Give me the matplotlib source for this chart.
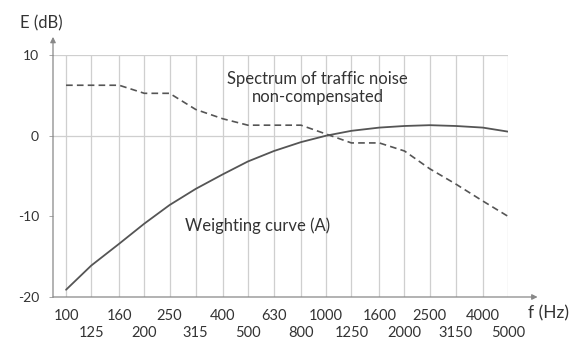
import matplotlib.pyplot as plt
import numpy as np

# third-octave band centres (Hz)
freqs = [100, 125, 160, 200, 250, 315, 400, 500, 630, 800,
         1000, 1250, 1600, 2000, 2500, 3150, 4000, 5000]
freq_labels = [str(f) for f in freqs]

# weighting curve (A), dB
weighting_a = [-19.1, -16.1, -13.4, -10.9, -8.6, -6.6, -4.8, -3.2, -1.9, -0.8,
               0.0, 0.6, 1.0, 1.2, 1.3, 1.2, 1.0, 0.5]

# traffic noise spectrum, non-compensated, dB
traffic = [6.25, 6.25, 6.25, 5.25, 5.25, 3.25, 2.1, 1.3, 1.3, 1.3,
           0.2, -0.9, -0.9, -1.9, -4.1, -6.0, -8.1, -10.0]

y_ticks = [-20, -10, 0, 10]
h_grid = [0, 10]

plt.rcParams['font.family'] = ['Lato', 'DejaVu Sans']

txt = '#333333'
grid_c = '#cfcfcf'
line_c = '#555555'

fig = plt.figure(figsize=(5.72, 3.40), dpi=100)
ax = fig.add_axes([53/572, 1 - 297/340, (508 - 53)/572, (297 - 55)/340])

ax.plot(freqs, weighting_a, color=line_c, lw=1.3, solid_capstyle='round')
ax.plot(freqs, traffic, color=line_c, lw=1.2, dashes=(4, 2.5))

ax.set_xscale('log')
ax.set_xlim(100 * 2 ** (-1/6), 5000)
ax.set_ylim(-20, 10)

# band labels on two rows: even bands as major ticks, odd bands as minor ticks
ax.set_xticks(freqs[0::2])
ax.set_xticklabels(freq_labels[0::2], fontsize=10.5, color=txt)
ax.set_xticks(freqs[1::2], minor=True)
ax.set_xticklabels(freq_labels[1::2], minor=True, fontsize=10.5, color=txt)
ax.tick_params(axis='x', which='major', length=0, pad=9)
ax.tick_params(axis='x', which='minor', length=0, pad=21)
# vertical grid at every band, horizontal only at 0 and 10
ax.grid(axis='x', which='both', color=grid_c, lw=0.9)
for h in h_grid:
    ax.axhline(h, color=grid_c, lw=0.9, zorder=0)

ax.set_yticks(y_ticks)
ax.set_yticklabels([str(v) for v in y_ticks], fontsize=10, color=txt)
ax.tick_params(axis='y', length=3, width=0.6, color='#999999', pad=7)

for s in ax.spines.values():
    s.set_visible(False)

# axes with arrow heads
ax.annotate('', xy=(1.065, 0), xytext=(0, 0), xycoords='axes fraction',
            arrowprops=dict(arrowstyle='-|>', color='#888888', lw=0.9,
                            mutation_scale=8, shrinkA=0, shrinkB=0))
ax.annotate('', xy=(0, 1.075), xytext=(0, 0), xycoords='axes fraction',
            arrowprops=dict(arrowstyle='-|>', color='#888888', lw=0.9,
                            mutation_scale=8, shrinkA=0, shrinkB=0))

ax.text(-0.026, 1.132, 'E (dB)', transform=ax.transAxes, ha='center', va='center',
        fontsize=12, color=txt)
ax.text(1.09, -0.066, 'f (Hz)', transform=ax.transAxes, ha='center', va='center',
        fontsize=12.5, color=txt)

ax.text(0.582, 0.864, 'Spectrum of traffic noise\nnon-compensated',
        transform=ax.transAxes, ha='center', va='center', fontsize=12,
        color=txt, linespacing=1.15)
ax.text(0.45, 0.293, 'Weighting curve (A)', transform=ax.transAxes,
        ha='center', va='center', fontsize=12, color=txt)

fig.savefig('out.png', dpi=100)
